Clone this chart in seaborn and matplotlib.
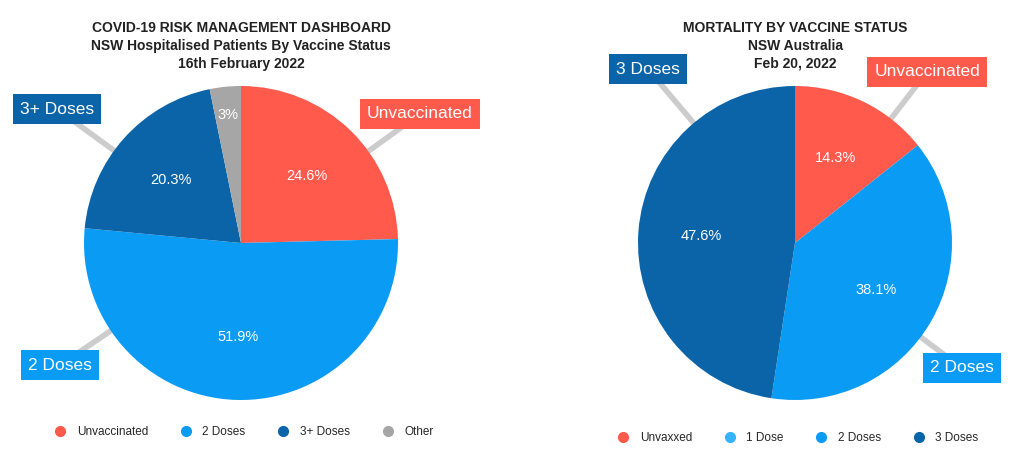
import matplotlib
matplotlib.use("Agg")
import matplotlib.pyplot as plt
import seaborn as sns
import numpy as np
from matplotlib.lines import Line2D

sns.set_theme(style="white")
plt.rcParams['font.family'] = ['Liberation Sans', 'DejaVu Sans']

left_cats = ["Unvaccinated", "2 Doses", "3+ Doses", "Other"]
left_vals = [24.6, 51.9, 20.3, 3.2]
left_pct = ["24.6%", "51.9%", "20.3%", "3%"]
right_cats = ["Unvaxxed", "1 Dose", "2 Doses", "3 Doses"]
right_vals = [14.3, 0.0, 38.1, 47.6]
right_pct = ["14.3%", "", "38.1%", "47.6%"]

RED, BLUE, DBLUE, GREY, LBLUE = "#FF5A4B", "#0A9BF5", "#0B64A8", "#A6A6A6", "#35B3FF"
left_cols = [RED, BLUE, DBLUE, GREY]
right_cols = [RED, LBLUE, BLUE, DBLUE]

W, H = 1024, 468
fig = plt.figure(figsize=(W/100, H/100), dpi=100)

def fx(x): return x / W
def fy(y): return 1 - y / H

def make_pie(cx, cy, r, vals, cols, pcts, titles, callouts):
    ax = fig.add_axes([fx(cx - r), fy(cy + r), 2*r/W, 2*r/H])
    wedges, _ = ax.pie(vals, colors=cols, startangle=90, counterclock=False,
                       wedgeprops=dict(linewidth=0))
    ax.set_xlim(-1, 1); ax.set_ylim(-1, 1)
    for w, p in zip(wedges, pcts):
        if not p: continue
        a = np.deg2rad((w.theta1 + w.theta2) / 2)
        rr = 0.6 if (w.theta2 - w.theta1) > 20 else 0.82
        ax.text(rr*np.cos(a), rr*np.sin(a), p, ha="center", va="center",
                color="white", fontsize=10.5)
    for i, t in enumerate(titles):
        fig.text(fx(cx), fy(28 + 18*i), t, ha="center", va="center",
                 fontsize=10, fontweight="bold", color="#222222")
    for label, bx, by, col in callouts:
        d = np.array([bx - cx, by - cy], float)
        dist = np.hypot(*d)
        ex, ey = cx + d[0]/dist*r, cy + d[1]/dist*r
        fig.add_artist(Line2D([fx(ex), fx(bx)], [fy(ey), fy(by)],
                              color="#cccccc", lw=4, transform=fig.transFigure, zorder=0))
        fig.text(fx(bx), fy(by), label, ha="center", va="center", color="white",
                 fontsize=12.5, bbox=dict(boxstyle="square,pad=0.42", fc=col, ec="none"), zorder=5)
    return ax

make_pie(241, 243, 157, left_vals, left_cols, left_pct,
         ["COVID-19 RISK MANAGEMENT DASHBOARD", "NSW Hospitalised Patients By Vaccine Status",
          "16th February 2022"],
         [("Unvaccinated", 420, 114, RED), ("3+ Doses", 57, 109, DBLUE),
          ("2 Doses", 60, 365, BLUE)])
make_pie(795, 243, 157, right_vals, right_cols, right_pct,
         ["MORTALITY BY VACCINE STATUS", "NSW Australia", "Feb 20, 2022"],
         [("Unvaccinated", 927, 72, RED), ("3 Doses", 648, 69, DBLUE),
          ("2 Doses", 962, 368, BLUE)])

def legend(cats, cols, cx, y):
    h = [Line2D([], [], marker="o", ls="", color=c, markersize=7) for c in cols]
    fig.legend(h, cats, loc="center", bbox_to_anchor=(fx(cx), fy(y)), ncol=len(cats),
               frameon=False, fontsize=8.5, handletextpad=0.4, columnspacing=2.2)

legend(left_cats, left_cols, 241, 432)
legend(right_cats, right_cols, 795, 438)

fig.savefig("out.png", dpi=100, facecolor="white")
